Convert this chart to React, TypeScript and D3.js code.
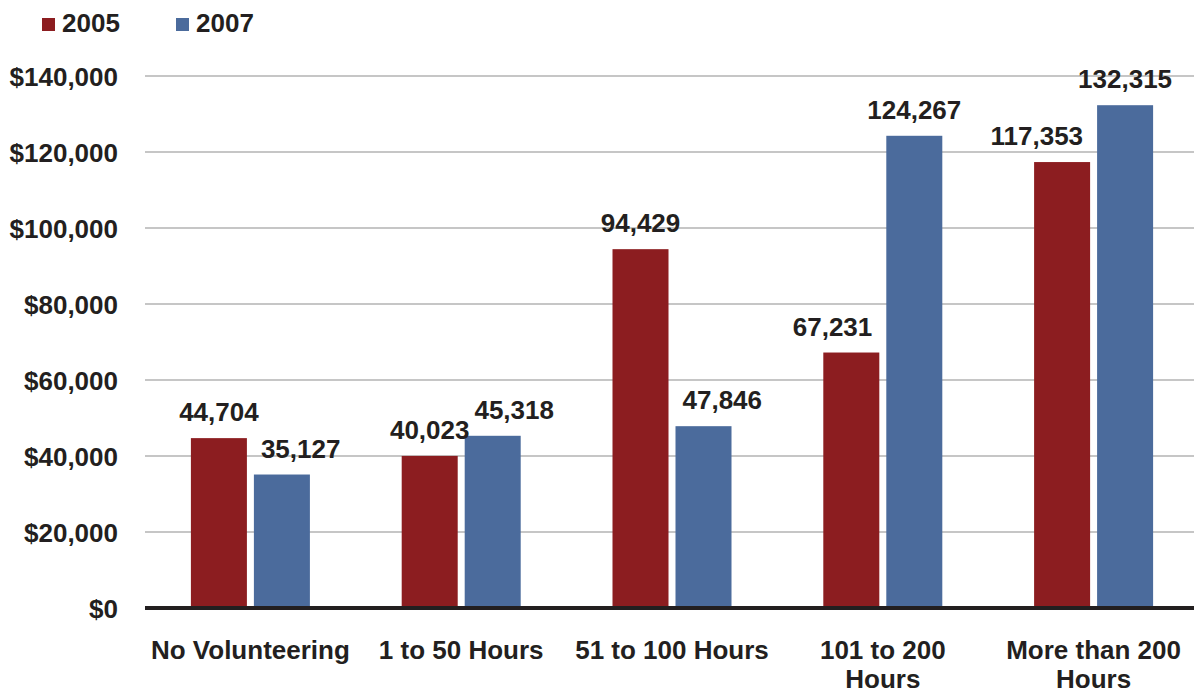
import React from "react";
import * as d3 from "d3";

const categories = [
  "No Volunteering",
  "1 to 50 Hours",
  "51 to 100 Hours",
  "101 to 200 Hours",
  "More than 200 Hours",
];
const seriesNames = ["2005", "2007"];
const values2005 = [44704, 40023, 94429, 67231, 117353];
const values2007 = [35127, 45318, 47846, 124267, 132315];
const yTicks = [0, 20000, 40000, 60000, 80000, 100000, 120000, 140000];

const W = 1194;
const H = 694;
const FONT = "'Liberation Sans', Arial, Helvetica, sans-serif";
const FS = 26;
const TEXT = "#231f20";
const COLORS = ["#8c1d20", "#4b6b9c"];

let ctx: CanvasRenderingContext2D | null = null;
function measure(t: string): number {
  if (!ctx) ctx = document.createElement("canvas").getContext("2d");
  if (!ctx) return t.length * FS * 0.55;
  ctx.font = `bold ${FS}px ${FONT}`;
  return ctx.measureText(t).width;
}

function wrap(text: string, maxW: number): string[] {
  const words = text.split(" ");
  const lines: string[] = [];
  let cur = "";
  for (const w of words) {
    const test = cur ? cur + " " + w : w;
    if (cur && measure(test) > maxW) {
      lines.push(cur);
      cur = w;
    } else cur = test;
  }
  if (cur) lines.push(cur);
  return lines;
}

export default function App() {
  const left = 145;
  const right = 1199;
  const x = d3.scaleBand<string>().domain(categories).range([left, right]).padding(0);
  const bw = x.bandwidth();
  const inner = d3
    .scaleBand<string>()
    .domain(seriesNames)
    .range([-59.5, 59.5])
    .paddingInner(0.111)
    .paddingOuter(0);
  const y = d3.scaleLinear().domain([0, 140000]).range([608, 76]);
  const fmt = d3.format(",");
  const tickFmt = (v: number) => "$" + d3.format(",")(v);
  const series = [values2005, values2007];

  const bars: any[] = [];
  const labels: any[] = [];
  categories.forEach((c, i) => {
    const cx = (x(c) as number) + bw / 2;
    const b = seriesNames.map((s, si) => {
      const v = series[si][i];
      const x0 = cx + (inner(s) as number);
      return { s, si, v, x0, x1: x0 + inner.bandwidth(), top: y(v) };
    });
    b.forEach((bb) => bars.push({ ...bb, c }));
    const lab = b.map((bb) => {
      const t = fmt(bb.v);
      const w = measure(t);
      const base = bb.top - 17;
      return { t, w, base, cx: (bb.x0 + bb.x1) / 2, si: bb.si };
    });
    const hi = b[0].v >= b[1].v ? 0 : 1;
    const lo = 1 - hi;
    const L = lab[lo];
    const Hh = lab[hi];
    const hb = b[hi];
    const gap = 14;
    const lLeft = L.cx - L.w / 2;
    const lRight = L.cx + L.w / 2;
    const hitsBar = L.base > hb.top + 4 && lRight > hb.x0 && lLeft < hb.x1;
    if (hitsBar) {
      if (lo === 0) L.cx = hb.x0 - gap - L.w / 2;
      else L.cx = hb.x1 + gap + L.w / 2;
    } else {
      const hLeft = Hh.cx - Hh.w / 2;
      const hRight = Hh.cx + Hh.w / 2;
      const vOverlap = Hh.base + 4 > L.base - 19;
      const hOverlap = hRight > lLeft && hLeft < lRight;
      if (vOverlap && hOverlap) {
        if (hi === 1) Hh.cx = lRight + 5 + Hh.w / 2;
        else Hh.cx = lLeft - 5 - Hh.w / 2;
      }
    }
    lab.forEach((l) => labels.push(l));
  });

  const legendX = [42, 176];

  return (
    <svg
      width={W}
      height={H}
      style={{ position: "absolute", left: 0, top: 0, background: "#fff" }}
      fontFamily={FONT}
      fontWeight="bold"
    >
      {/* legend */}
      {seriesNames.map((s, i) => (
        <g key={s}>
          <rect x={legendX[i]} y={18} width={13} height={13} fill={COLORS[i]} />
          <text x={legendX[i] + 20} y={32} fontSize={FS} fill={TEXT}>
            {s}
          </text>
        </g>
      ))}
      {/* gridlines */}
      {yTicks.slice(1).map((t) => (
        <line key={t} x1={left} x2={W} y1={y(t)} y2={y(t)} stroke="#c6c6c6" strokeWidth={2} />
      ))}
      {/* y labels */}
      {yTicks.map((t) => (
        <text key={t} x={118} y={y(t) + 9.5} textAnchor="end" fontSize={FS} fill={TEXT}>
          {tickFmt(t)}
        </text>
      ))}
      {/* bars */}
      {bars.map((b) => (
        <rect
          key={b.c + b.s}
          x={b.x0}
          y={b.top}
          width={b.x1 - b.x0}
          height={y(0) - b.top}
          fill={COLORS[b.si]}
        />
      ))}
      {/* axis line */}
      <line x1={left} x2={W} y1={y(0)} y2={y(0)} stroke={TEXT} strokeWidth={4} />
      {/* value labels */}
      {labels.map((l, i) => (
        <text key={i} x={l.cx} y={l.base} textAnchor="middle" fontSize={FS} fill={TEXT}>
          {l.t}
        </text>
      ))}
      {/* category labels */}
      {categories.map((c) => {
        const lines = wrap(c, 200);
        const cx = (x(c) as number) + bw / 2;
        return (
          <text key={c} x={cx} y={659} textAnchor="middle" fontSize={FS} fill={TEXT}>
            {lines.map((ln, k) => (
              <tspan key={k} x={cx} dy={k === 0 ? 0 : 29}>
                {ln}
              </tspan>
            ))}
          </text>
        );
      })}
    </svg>
  );
}
